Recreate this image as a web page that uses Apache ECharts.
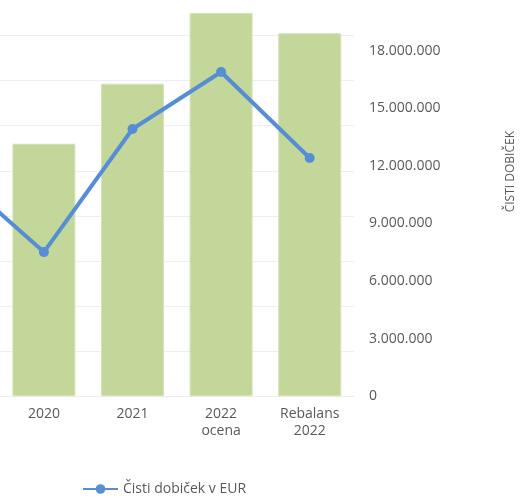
<!DOCTYPE html>
<html><head><meta charset="utf-8">
<script src="https://cdn.jsdelivr.net/npm/echarts@6/dist/echarts.min.js"></script>
<style>
html,body{margin:0;padding:0;width:524px;height:498px;overflow:hidden;background:#fff;position:relative}
#c{position:absolute;left:-100px;top:-20px;width:624px;height:518px}
</style></head>
<body><div id="c"></div>
<script>
const categories = ['2019', '2020', '2021', '2022\nocena', 'Rebalans\n2022'];
const barValues = [50000000, 56000000, 69300000, 85000000, 80500000];
const lineValues = [11600000, 7510000, 13920000, 16890000, 12410000];
const lineName = 'Čisti dobiček v EUR';
const barName = 'Prihodki';
const rightAxisName = 'ČISTI DOBIČEK';

function fmt(v){ return String(Math.round(v)).replace(/\B(?=(\d{3})+(?!\d))/g, '.'); }

const chart = echarts.init(document.getElementById('c'));
const font = '"Open Sans", sans-serif';
chart.setOption({
  animation: false,
  grid: { left: 11, right: 170, top: 10.4, bottom: 101.7 },
  legend: {
    data: [lineName], left: 177, top: 497, itemWidth: 35, itemHeight: 12,
    textStyle: { fontFamily: font, fontSize: 14, color: '#595959' }
  },
  xAxis: {
    type: 'category', data: categories,
    axisLine: { show: true, lineStyle: { color: '#eeeeee' } },
    axisTick: { show: false },
    axisLabel: { fontFamily: font, fontSize: 14, color: '#595959', margin: 9, lineHeight: 17 }
  },
  yAxis: [
    { type: 'value', min: 0, max: 90000000, interval: 10000000, position: 'left',
      axisLabel: { show: false }, axisLine: { show: false }, axisTick: { show: false },
      splitLine: { lineStyle: { color: '#efefef', width: 1 } } },
    { type: 'value', min: 0, max: 21140000, interval: 3000000, position: 'right',
      axisLabel: { formatter: fmt, fontFamily: font, fontSize: 14, color: '#595959', margin: 15,
        showMaxLabel: false },
      axisLine: { show: false }, axisTick: { show: false }, splitLine: { show: false } }
  ],
  graphic: [{
    type: 'text', left: 605, top: 151, rotation: Math.PI / 2,
    style: { text: rightAxisName, fill: '#595959', font: '12px "Liberation Sans Narrow", "Open Sans", sans-serif' }
  }],
  series: [
    { name: barName, type: 'bar', yAxisIndex: 0, data: barValues, barWidth: 63,
      itemStyle: { color: '#C4D79B', borderColor: '#d4e3b5', borderWidth: 1 } },
    { name: lineName, type: 'line', yAxisIndex: 1, data: lineValues,
      symbol: 'circle', symbolSize: 10,
      lineStyle: { color: '#558ED5', width: 4 }, itemStyle: { color: '#558ED5' } }
  ]
});
</script></body></html>
